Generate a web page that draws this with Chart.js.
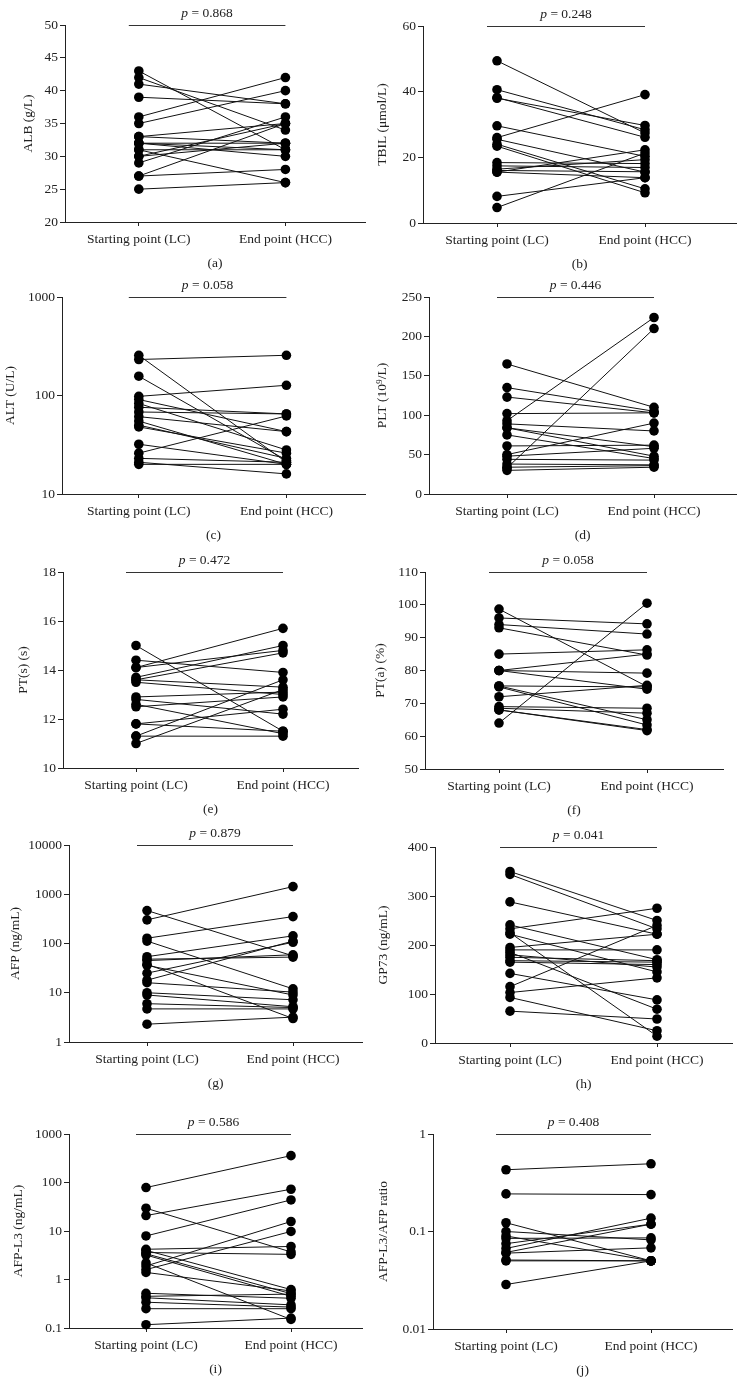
<!DOCTYPE html>
<html>
<head>
<meta charset="utf-8">
<script src="https://cdn.jsdelivr.net/npm/chart.js@4/dist/chart.umd.min.js"></script>
<style>
  body { margin: 0; background: #fff; }
  #page { position: relative; width: 741px; height: 1397px; overflow: hidden; background: #fff; }
  #page canvas { position: absolute; }
</style>
</head>
<body>
<div id="page"></div>
<script>
// the two time points
const timePoints = ["Starting point (LC)", "End point (HCC)"];

// (a) ALB
const albStart = [43, 42, 41, 39, 36, 35, 33, 33, 32, 32, 31, 31, 30, 29, 27, 27, 25, 32, 30];
const albEnd   = [31, 34, 38, 38, 42, 40, 35, 32, 30, 32, 26, 31, 35, 36, 35, 28, 26, 31, 32];
const albTicks = [20, 25, 30, 35, 40, 45, 50];

// (b) TBIL
const tbilStart = [49.4, 40.6, 38.2, 38.0, 29.6, 26.0, 25.5, 24.0, 23.4, 18.4, 17.4, 16.4, 16.0, 15.5, 15.5, 8.1, 4.7];
const tbilEnd   = [27.4, 28.4, 26.1, 29.7, 20.3, 39.1, 15.5, 10.4, 9.2, 18.1, 16.9, 19.3, 15.6, 22.3, 13.8, 13.8, 21.3];
const tbilTicks = [0, 20, 40, 60];

// (c) ALT
const altStart = [232, 256, 157, 98, 91, 83, 76, 68, 61, 55, 50, 48, 32, 26, 23, 20, 21];
const altEnd   = [256, 21, 22, 127, 43, 28, 65, 65, 43, 20, 23, 26, 20, 62, 21, 20, 16];
const altTicks = [10, 100, 1000];

// (d) PLT
const pltStart = [165, 135, 123, 102, 93, 33, 89, 84, 84, 75, 61, 50, 48, 44, 38, 34, 30];
const pltEnd   = [110, 105, 103, 103, 224, 210, 80, 60, 48, 45, 62, 90, 58, 43, 37, 36, 34];
const pltTicks = [0, 50, 100, 150, 200, 250];

// (e) PT(s)
const ptsStart = [15.0, 14.4, 14.1, 14.1, 13.7, 13.6, 13.6, 13.5, 12.9, 12.8, 12.6, 12.5, 11.8, 11.8, 11.3, 11.3, 11.0];
const ptsEnd   = [11.5, 13.9, 15.7, 14.8, 15.0, 14.7, 13.3, 13.0, 13.1, 12.2, 11.4, 12.9, 12.4, 11.5, 13.6, 11.3, 13.2];
const ptsTicks = [10, 12, 14, 16, 18];

// (f) PT(a)
const ptaStart = [98.7, 96.0, 94.0, 93.0, 85.0, 80.0, 80.0, 80.0, 75.3, 75.3, 75.0, 72.0, 69.0, 68.5, 68.0, 68.0, 64.0];
const ptaEnd   = [75.1, 94.2, 91.1, 84.7, 86.3, 85.0, 79.2, 74.3, 75.0, 65.0, 63.4, 75.5, 68.5, 67.0, 62.0, 61.7, 100.5];
const ptaTicks = [50, 60, 70, 80, 90, 100, 110];

// (g) AFP
const afpStart = [467, 302, 128, 112, 54, 48, 45, 38, 36, 25, 18, 16, 10, 9, 6, 4.7, 2.3];
const afpEnd   = [56, 1430, 352, 12, 143, 53, 59, 3.0, 9, 106, 112, 10.3, 7.2, 5.2, 5.0, 4.7, 3.2];
const afpTicks = [1, 10, 100, 1000, 10000];

// (h) GP73
const gpStart = [350, 344, 288, 241, 233, 225, 222, 195, 190, 185, 180, 175, 168, 165, 142, 115, 103, 93, 65];
const gpEnd   = [250, 233, 222, 170, 275, 14, 145, 222, 190, 69, 155, 168, 165, 160, 88, 240, 133, 25, 49];
const gpTicks = [0, 100, 200, 300, 400];

// (i) AFP-L3
const l3Start = [78.6, 29.5, 20.8, 7.9, 4.2, 4.0, 3.6, 3.4, 3.2, 2.2, 1.9, 1.6, 1.4, 0.52, 0.45, 0.42, 0.34, 0.25, 0.117];
const l3End   = [358, 3.7, 72.6, 43.7, 4.8, 0.62, 3.3, 0.51, 0.45, 0.15, 15.7, 9.8, 0.58, 0.41, 0.5, 0.3, 0.27, 0.25, 0.16];
const l3Ticks = [0.1, 1, 10, 100, 1000];

// (j) AFP-L3/AFP ratio
const ratioStart = [0.43, 0.243, 0.123, 0.1, 0.09, 0.085, 0.075, 0.067, 0.061, 0.06, 0.05, 0.051, 0.0286];
const ratioEnd   = [0.495, 0.239, 0.05, 0.082, 0.05, 0.086, 0.119, 0.137, 0.119, 0.068, 0.05, 0.05, 0.05];
const ratioTicks = [0.01, 0.1, 1];

const panels = [
  {tag: "(a)", title: "ALB (g/L)", p: "0.868", s: albStart, e: albEnd, ticks: albTicks, log: false},
  {tag: "(b)", title: "TBIL (\u03bcmol/L)", p: "0.248", s: tbilStart, e: tbilEnd, ticks: tbilTicks, log: false},
  {tag: "(c)", title: "ALT (U/L)", p: "0.058", s: altStart, e: altEnd, ticks: altTicks, log: true},
  {tag: "(d)", title: "PLT (10\u2079/L)", p: "0.446", s: pltStart, e: pltEnd, ticks: pltTicks, log: false},
  {tag: "(e)", title: "PT(s) (s)", p: "0.472", s: ptsStart, e: ptsEnd, ticks: ptsTicks, log: false},
  {tag: "(f)", title: "PT(a) (%)", p: "0.058", s: ptaStart, e: ptaEnd, ticks: ptaTicks, log: false},
  {tag: "(g)", title: "AFP (ng/mL)", p: "0.879", s: afpStart, e: afpEnd, ticks: afpTicks, log: true},
  {tag: "(h)", title: "GP73 (ng/mL)", p: "0.041", s: gpStart, e: gpEnd, ticks: gpTicks, log: false},
  {tag: "(i)", title: "AFP-L3 (ng/mL)", p: "0.586", s: l3Start, e: l3End, ticks: l3Ticks, log: true},
  {tag: "(j)", title: "AFP-L3/AFP ratio", p: "0.408", s: ratioStart, e: ratioEnd, ticks: ratioTicks, log: true},
];

// page placement of each panel: y axis x, top/bottom of the y axis, end of x axis,
// x of the two time points, centre x of the y title
const boxes = [
  {ax: 65,  top: 25,   bot: 222,  end: 366, x1: 139, x2: 286, tx: 28},
  {ax: 423, top: 26,   bot: 223,  end: 736, x1: 497, x2: 645, tx: 382},
  {ax: 62,  top: 297,  bot: 494,  end: 366, x1: 139, x2: 287, tx: 10},
  {ax: 429, top: 297,  bot: 494,  end: 736, x1: 507, x2: 654, tx: 382},
  {ax: 63,  top: 572,  bot: 768,  end: 358, x1: 136, x2: 283, tx: 23},
  {ax: 425, top: 572,  bot: 769,  end: 723, x1: 499, x2: 647, tx: 380},
  {ax: 69,  top: 845,  bot: 1042, end: 362, x1: 147, x2: 293, tx: 15},
  {ax: 435, top: 847,  bot: 1043, end: 732, x1: 510, x2: 657, tx: 383},
  {ax: 69,  top: 1134, bot: 1328, end: 362, x1: 146, x2: 291, tx: 18},
  {ax: 433, top: 1134, bot: 1329, end: 732, x1: 506, x2: 651, tx: 383},
];

const FONT = '"Liberation Serif", "Times New Roman", serif';
const FS = 13.5;
const INK = "#222";
const TOP_PAD = 30, X_AXIS_H = 53;

// horizontal bar with the p value above the two groups
const pLine = {
  id: "pline",
  afterDraw(chart, args, opts) {
    const {ctx, chartArea, scales} = chart;
    const x1 = scales.x.getPixelForValue(1) - 10;
    const x2 = scales.x.getPixelForValue(3);
    const y = Math.round(chartArea.top) + 0.5;
    ctx.save();
    ctx.strokeStyle = "#333";
    ctx.lineWidth = 1;
    ctx.beginPath();
    ctx.moveTo(x1, y);
    ctx.lineTo(x2, y);
    ctx.stroke();
    const rest = " = " + opts.text;
    ctx.font = "italic " + FS + "px " + FONT;
    const w1 = ctx.measureText("p").width;
    ctx.font = FS + "px " + FONT;
    const w2 = ctx.measureText(rest).width;
    const tx = (x1 + x2) / 2 - (w1 + w2) / 2;
    ctx.fillStyle = INK;
    ctx.textBaseline = "middle";
    ctx.font = "italic " + FS + "px " + FONT;
    ctx.fillText("p", tx, y - 12);
    ctx.font = FS + "px " + FONT;
    ctx.fillText(rest, tx + w1, y - 12);
    ctx.restore();
  }
};

const page = document.getElementById("page");

panels.forEach((pn, i) => {
  const b = boxes[i];
  const col = i % 2;
  const left = col === 0 ? 0 : 370;
  const width = col === 0 ? 370 : 371;
  const ctop = b.top - TOP_PAD;
  const height = (b.bot - b.top) + TOP_PAD + X_AXIS_H;

  const cv = document.createElement("canvas");
  cv.width = width;
  cv.height = height;
  cv.style.left = left + "px";
  cv.style.top = ctop + "px";
  cv.style.width = width + "px";
  cv.style.height = height + "px";
  page.appendChild(cv);

  const u = (b.x2 - b.x1) / 2;
  const xMin = 1 - (b.x1 - b.ax) / u;
  const xMax = 3 + (b.end - b.x2) / u;

  const datasets = pn.s.map((v, k) => ({
    data: [{x: 1, y: v}, {x: 3, y: pn.e[k]}],
    borderColor: "#111",
    borderWidth: 1,
    backgroundColor: "#000",
    pointBackgroundColor: "#000",
    pointBorderColor: "#000",
    pointRadius: 4.8,
    pointBorderWidth: 0,
    clip: false,
  }));

  new Chart(cv, {
    type: "line",
    data: {datasets},
    plugins: [pLine],
    options: {
      responsive: false,
      animation: false,
      events: [],
      layout: {padding: {top: TOP_PAD, left: 0, right: (left + width) - b.end, bottom: 0}},
      plugins: {
        legend: {display: false},
        tooltip: {enabled: false},
        pline: {text: pn.p},
      },
      scales: {
        x: {
          type: "linear",
          min: xMin,
          max: xMax,
          afterBuildTicks: s => { s.ticks = [{value: 1}, {value: 3}]; },
          afterFit: s => { s.height = X_AXIS_H; },
          grid: {drawOnChartArea: false, drawTicks: true, tickLength: 4, color: INK, lineWidth: 1},
          border: {display: true, color: INK, width: 1},
          ticks: {
            color: INK, font: {family: FONT, size: FS}, padding: 5,
            maxRotation: 0, autoSkip: false,
            callback: v => (v === 1 ? timePoints[0] : timePoints[1]),
          },
          title: {display: true, text: pn.tag, color: INK, font: {family: FONT, size: FS}, padding: {top: 0, bottom: 3}},
        },
        y: {
          type: pn.log ? "logarithmic" : "linear",
          min: pn.ticks[0],
          max: pn.ticks[pn.ticks.length - 1],
          afterBuildTicks: s => { s.ticks = pn.ticks.map(v => ({value: v})); },
          afterFit: s => { s.width = b.ax - left; },
          grid: {drawOnChartArea: false, drawTicks: true, tickLength: 5, color: INK, lineWidth: 1},
          border: {display: true, color: INK, width: 1},
          ticks: {color: INK, font: {family: FONT, size: FS}, padding: 2, autoSkip: false, callback: v => String(v)},
          title: {
            display: true, text: pn.title, color: INK,
            font: {family: FONT, size: FS},
            padding: {top: Math.max(0, b.tx - left - 8.1), bottom: 0},
          },
        },
      },
    },
  });
});
</script>
</body>
</html>
